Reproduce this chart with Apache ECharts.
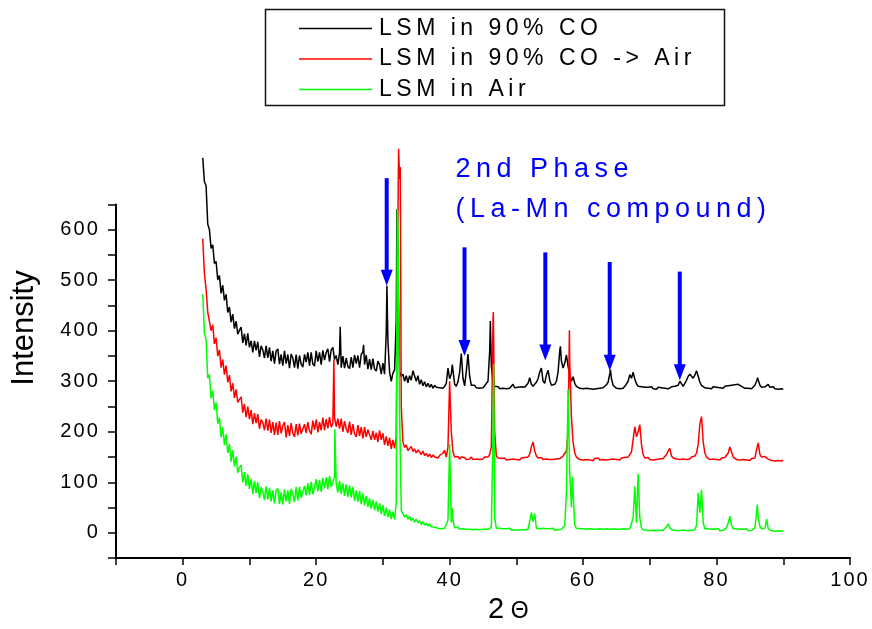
<!DOCTYPE html>
<html>
<head>
<meta charset="utf-8">
<script src="https://cdn.jsdelivr.net/npm/echarts@6/dist/echarts.min.js"></script>
<style>
  html, body { margin: 0; padding: 0; background: #fff; }
  #chart { width: 872px; height: 629px; }
</style>
</head>
<body>
<div id="chart"></div>
<script>
// XRD scans of LSM: intensity sampled every 0.25° of 2θ starting at 3°
const SCAN_START = 3;
const SCAN_STEP = 0.25;

const seriesNames = ['LSM in 90% CO', 'LSM in 90% CO -> Air', 'LSM in Air'];
const seriesColors = ['#000000', '#ff0000', '#00ff00'];

// LSM in 90% CO (offset trace)
const coScan = [
  742,695,687,611,600,563,570,533,537,501,509,474,490,460,472,436,447,417,433,404,
  419,393,401,407,376,394,371,395,367,380,357,380,361,378,348,370,362,346,370,346,
  367,340,360,335,360,364,334,353,331,360,335,353,326,354,346,327,353,325,351,334,
  328,353,338,357,331,357,334,330,360,339,357,333,361,342,357,364,339,362,367,343,
  351,333,356,327,350,326,346,329,325,348,327,352,335,351,327,353,358,333,352,324,
  344,323,345,324,320,340,333,314,336,314,395,380,318,300,316,322,420,540,318,310,
  314,300,311,297,311,302,321,321,300,311,294,303,291,299,289,296,288,294,286,292,
  288,291,287,289,286,290,296,326,305,314,322,294,290,299,318,355,306,291,320,354,
  310,292,289,292,287,290,286,289,287,291,288,300,360,330,298,290,287,289,285,288,
  286,289,285,288,286,290,294,287,285,288,286,289,286,288,290,296,307,294,290,293,
  298,305,318,326,300,296,312,322,302,292,290,294,300,318,360,340,326,336,352,330,
  312,300,309,296,290,288,286,289,285,288,286,289,285,288,284,287,285,288,286,289,
  287,290,293,298,315,305,292,289,286,288,285,288,286,290,292,300,313,306,318,304,
  295,290,287,289,286,288,285,288,286,289,285,287,284,288,285,287,289,286,288,285,
  287,289,286,290,288,292,300,298,290,296,302,310,314,316,306,312,321,310,298,292,
  289,287,290,286,288,285,289,286,288,285,287,289,286,290,288,291,289,292,290,293,
  291,294,296,290,288,286,289,286,288,285,287,292,300,304,292,288,286,289,292,294,
  288,286,289,285,287,284,286,285,284
];
// sharp reflections whose apex falls between scan steps: [2θ, intensity]
const coPeaks = [[23.6,408],[27.1,372],[30.6,489],[32.1,641],[40.4,333],[46.1,419],[56.6,369],[64.1,323],[86.15,307]];

// LSM in 90% CO, then re-oxidised in air (offset trace)
const coAirScan = [
  582,513,482,437,439,400,412,374,386,350,362,327,343,313,331,298,312,280,296,267,
  284,258,264,269,238,255,229,250,225,243,215,237,217,235,206,224,218,203,226,202,
  224,198,219,194,218,194,221,197,212,219,189,213,192,217,197,190,215,193,216,196,
  193,215,198,219,202,195,222,204,224,199,219,203,228,203,225,207,229,209,217,228,
  210,226,206,226,200,221,206,198,220,194,215,196,190,213,192,209,187,209,190,204,
  201,184,202,184,198,180,203,184,197,174,191,172,188,166,184,167,190,620,700,250,
  180,169,174,163,167,171,161,166,158,164,160,155,162,153,157,151,156,149,154,150,
  152,148,153,150,158,163,150,170,300,200,160,150,147,151,146,150,147,149,145,148,
  146,150,145,148,146,149,145,148,146,150,147,150,155,170,420,200,152,148,145,147,
  145,148,144,147,145,148,146,149,145,147,144,148,146,149,147,150,156,170,180,162,
  152,148,146,149,145,148,146,149,145,147,145,148,146,149,147,150,152,155,162,200,
  340,229,180,158,150,147,145,148,144,147,145,148,144,146,143,147,145,148,144,147,
  145,148,144,147,145,148,146,149,145,147,144,148,146,149,147,150,152,160,185,210,
  190,200,214,175,155,148,146,149,145,148,144,147,145,148,146,149,147,150,155,162,
  167,152,148,151,146,149,145,148,146,149,145,148,146,150,148,152,158,175,216,230,
  180,158,150,147,145,148,146,149,145,147,144,148,146,149,150,158,170,160,150,147,
  145,148,144,147,145,148,144,146,143,147,144,148,165,178,155,150,148,151,154,146,
  145,143,146,142,145,143,146,142,144
];
const coAirPeaks = [[22.65,343],[32.35,760],[32.6,724],[46.55,437],[57.95,401]];

// LSM sintered in air
const airScan = [
  472,396,382,306,313,266,282,243,258,216,228,189,209,174,195,158,176,141,164,131,
  151,119,130,134,100,120,93,116,87,107,77,103,79,100,69,90,81,65,92,66,
  89,62,84,58,84,88,57,80,56,86,62,84,57,87,77,61,91,64,91,69,
  68,93,74,98,75,101,76,75,106,82,105,81,109,88,110,86,113,91,101,110,
  97,80,103,77,98,73,96,71,94,70,91,63,84,61,83,57,78,54,73,51,
  68,48,65,45,62,42,59,37,55,33,50,31,46,27,42,26,60,600,242,45,
  42,31,36,27,33,24,29,21,27,20,24,16,22,15,19,14,18,12,15,11,
  13,9,12,8,11,9,12,25,176,20,25,10,8,11,7,10,8,11,7,9,
  7,10,6,9,7,10,6,9,7,10,7,9,8,12,200,30,9,6,9,6,
  8,5,8,6,9,5,8,6,9,5,8,6,9,6,8,7,10,40,22,38,
  9,6,8,5,9,6,8,5,8,6,9,5,8,6,9,7,10,14,80,284,
  120,50,80,15,9,6,8,5,8,5,7,4,8,5,7,4,7,5,8,5,
  7,4,8,5,7,4,8,5,7,4,7,5,8,5,7,5,8,10,30,92,
  20,117,30,10,6,8,5,7,4,7,5,8,4,7,5,8,5,8,12,18,
  10,6,8,5,7,4,7,5,8,5,7,4,7,5,8,6,15,79,40,85,
  20,8,6,8,5,7,4,7,5,8,4,7,5,8,10,20,33,15,8,6,
  8,5,7,4,7,5,8,4,7,5,8,10,40,30,12,8,6,9,27,8,
  6,4,7,3,6,4,7,3,5
];
const airPeaks = [[22.8,205],[32.15,641],[40.4,49],[46.6,334],[58.4,111],[86.1,56]];

// second-phase markers: [2θ, tail intensity, tip intensity]
const phaseArrows = [[30.57,702,489],[42.23,565,350],[54.34,555,341],[63.99,536,321],[74.49,517,302]];

const xTicks = { min: -10, max: 100, step: 10, labelEvery: 20 };
const yTicks = { min: -50, max: 650, step: 50, labelEvery: 100, labelMin: 0, labelMax: 600 };

// Origin-style tracking: spread the glyphs a little, by font size
const TRACKING_PX = { 20: 2.1, 23: 4.5, 27: 5.5, 29: 6 };
const nativeFillText = CanvasRenderingContext2D.prototype.fillText;
CanvasRenderingContext2D.prototype.fillText = function (text, x, y, maxWidth) {
  const m = /([\d.]+)px/.exec(this.font);
  const track = m ? (TRACKING_PX[Math.round(parseFloat(m[1]))] || 0) : 0;
  this.letterSpacing = track + 'px';
  return maxWidth === undefined
    ? nativeFillText.call(this, text, x, y)
    : nativeFillText.call(this, text, x, y, maxWidth);
};

function trace(scan, peaks) {
  const pts = scan.map((v, i) => [SCAN_START + i * SCAN_STEP, v]);
  return pts.concat(peaks).sort((a, b) => a[0] - b[0]);
}

const FONT = '"Liberation Sans", Arial, Helvetica, sans-serif';
const scans = [trace(coScan, coPeaks), trace(coAirScan, coAirPeaks), trace(airScan, airPeaks)];

const chart = echarts.init(document.getElementById('chart'), null, { renderer: 'canvas' });

const lineSeries = seriesNames.map((name, i) => ({
  name,
  type: 'line',
  data: scans[i],
  showSymbol: false,
  symbol: 'none',
  clip: false,
  silent: true,
  z: 2 + i,
  lineStyle: { color: seriesColors[i], width: 1.5 },
  itemStyle: { color: seriesColors[i] },
  emphasis: { disabled: true }
}));

const arrowSeries = {
  name: '2nd Phase',
  type: 'custom',
  coordinateSystem: 'cartesian2d',
  data: phaseArrows,
  encode: { x: 0, y: [1, 2] },
  silent: true,
  clip: false,
  z: 10,
  renderItem(params, api) {
    const tail = api.coord([api.value(0), api.value(1)]);
    const tip = api.coord([api.value(0), api.value(2)]);
    const headLen = 16, headHalf = 6;
    return {
      type: 'group',
      children: [
        { type: 'line', shape: { x1: tail[0], y1: tail[1], x2: tip[0], y2: tip[1] - headLen + 2 },
          style: { stroke: '#0000ff', lineWidth: 4 } },
        { type: 'polygon', shape: { points: [[tip[0] - headHalf, tip[1] - headLen], [tip[0] + headHalf, tip[1] - headLen], [tip[0], tip[1]]] },
          style: { fill: '#0000ff' } }
      ]
    };
  }
};

chart.setOption({
  animation: false,
  backgroundColor: '#ffffff',
  textStyle: { fontFamily: FONT, color: '#000' },
  grid: { left: 116, right: 22, top: 204.4, bottom: 66.4, containLabel: false },
  legend: {
    data: seriesNames,
    orient: 'vertical',
    left: 299,
    top: 17,
    padding: 0,
    itemWidth: 73,
    itemHeight: 1.5,
    itemGap: 7.5,
    icon: 'rect',
    selectedMode: false,
    textStyle: { fontFamily: FONT, fontSize: 23, color: '#000', padding: [0, 0, 0, 2] }
  },
  xAxis: {
    type: 'value',
    min: xTicks.min,
    max: xTicks.max,
    interval: xTicks.step,
    name: '{d|2}{t|Θ}',
    nameLocation: 'middle',
    nameGap: 34,
    nameTextStyle: {
      padding: [0, 0, 0, 56],
      rich: {
        d: { fontFamily: FONT, fontSize: 29, color: '#000', verticalAlign: 'bottom' },
        t: { fontFamily: FONT, fontSize: 23, color: '#000', verticalAlign: 'bottom', padding: [0, 0, 1, 6] }
      }
    },
    axisLine: { show: true, onZero: false, lineStyle: { color: '#000', width: 2 } },
    axisTick: { show: true, inside: false, length: 7, lineStyle: { color: '#000', width: 1.5 } },
    splitLine: { show: false },
    axisLabel: {
      fontFamily: FONT, fontSize: 20, color: '#000', margin: 12,
      formatter: v => (v >= 0 && v % xTicks.labelEvery === 0) ? String(v) : ''
    }
  },
  yAxis: {
    type: 'value',
    min: yTicks.min,
    max: yTicks.max,
    interval: yTicks.step,
    axisLine: { show: true, onZero: false, lineStyle: { color: '#000', width: 2 } },
    axisTick: { show: true, inside: false, length: 8, lineStyle: { color: '#000', width: 1.5 } },
    splitLine: { show: false },
    axisLabel: {
      fontFamily: FONT, fontSize: 20, color: '#000', margin: 16,
      formatter: v => (v >= yTicks.labelMin && v <= yTicks.labelMax && v % yTicks.labelEvery === 0) ? String(v) : ''
    }
  },
  graphic: [
    { type: 'rect', shape: { x: 265.5, y: 9.5, width: 459, height: 96 },
      style: { fill: 'transparent', stroke: '#111', lineWidth: 1.5 }, silent: true, z: 1 },
    { type: 'text', x: 24, y: 328, rotation: Math.PI / 2, silent: true,
      style: { text: 'Intensity', fontFamily: FONT, fontSize: 31, fill: '#000', textAlign: 'center', textVerticalAlign: 'middle' } },
    { type: 'text', x: 455.5, y: 189.7, silent: true,
      style: { text: '2nd Phase\n(La-Mn compound)', fontFamily: FONT, fontSize: 27, lineHeight: 40,
        fill: '#0000ff', textAlign: 'left', textVerticalAlign: 'middle' } }
  ],
  series: lineSeries.concat([arrowSeries])
});
</script>
</body>
</html>
